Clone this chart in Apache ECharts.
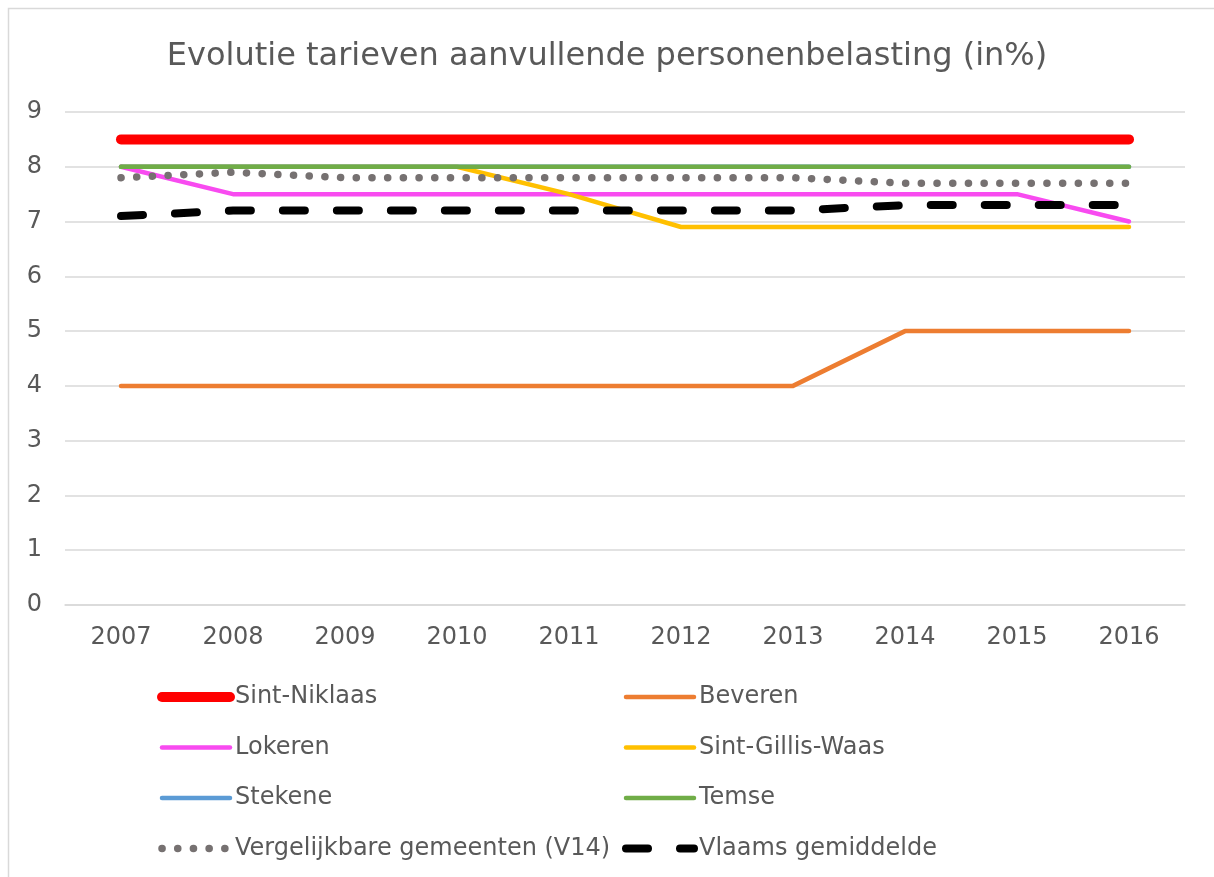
<!DOCTYPE html>
<html>
<head>
    <meta charset="utf-8">
    <title>Evolutie tarieven aanvullende personenbelasting</title>
    <script src="https://cdn.jsdelivr.net/npm/echarts@6/dist/echarts.min.js"></script>
    <style>
        html, body { margin: 0; padding: 0; background: #fff; }
        #main { width: 1214px; height: 877px; }
    </style>
</head>
<body>
    <div id="main"></div>
    <script type="text/javascript">
        // data
        var years = ['2007', '2008', '2009', '2010', '2011', '2012', '2013', '2014', '2015', '2016'];
        var sintNiklaas   = [8.5, 8.5, 8.5, 8.5, 8.5, 8.5, 8.5, 8.5, 8.5, 8.5];
        var beveren       = [4, 4, 4, 4, 4, 4, 4, 5, 5, 5];
        var lokeren       = [8, 7.5, 7.5, 7.5, 7.5, 7.5, 7.5, 7.5, 7.5, 7];
        var sintGillis    = [8, 8, 8, 8, 7.5, 6.9, 6.9, 6.9, 6.9, 6.9];
        var stekene       = [8, 8, 8, 8, 8, 8, 8, 8, 8, 8];
        var temse         = [8, 8, 8, 8, 8, 8, 8, 8, 8, 8];
        var vergelijkbaar = [7.8, 7.9, 7.8, 7.8, 7.8, 7.8, 7.8, 7.7, 7.7, 7.7];
        var vlaamsGem     = [7.1, 7.2, 7.2, 7.2, 7.2, 7.2, 7.2, 7.3, 7.3, 7.3];

        var font = 'DejaVu Sans';
        var txt = '#595959';

        function lineSerie(name, data, color, width, type) {
            return {
                name: name,
                type: 'line',
                data: data,
                symbol: 'none',
                animation: false,
                lineStyle: { color: color, width: width, type: type || 'solid', cap: 'round', join: 'round' },
                itemStyle: { color: color }
            };
        }

        // legend: line icon only, the circle symbol made invisible
        var legendBase = {
            orient: 'vertical',
            top: 685,
            itemWidth: 68,
            itemHeight: 24,
            itemGap: 26.5,
            icon: 'inherit',
            itemStyle: { opacity: 0 },
            lineStyle: { width: 'inherit', type: 'inherit', cap: 'round' },
            textStyle: { fontFamily: font, fontSize: 24, color: txt, lineHeight: 24 },
            padding: 0
        };

        var option = {
            backgroundColor: '#fff',
            title: {
                text: 'Evolutie tarieven aanvullende personenbelasting (in%)',
                left: 'center',
                top: 36,
                textStyle: { fontFamily: font, fontSize: 32, fontWeight: 'normal', color: txt }
            },
            legend: [
                Object.assign({}, legendBase, {
                    left: 157,
                    data: ['Sint-Niklaas', 'Lokeren', 'Stekene', 'Vergelijkbare gemeenten (V14)']
                }),
                Object.assign({}, legendBase, {
                    left: 622,
                    data: ['Beveren', 'Sint-Gillis-Waas', 'Temse', 'Vlaams gemiddelde']
                })
            ],
            grid: { left: 65, right: 29, top: 112, bottom: 272 },
            xAxis: {
                type: 'category',
                data: years,
                boundaryGap: true,
                axisLine: { lineStyle: { color: '#d9d9d9', width: 1.5 } },
                axisTick: { show: false },
                axisLabel: { fontFamily: font, fontSize: 24, color: txt, margin: 21 }
            },
            yAxis: {
                type: 'value',
                min: 0,
                max: 9,
                interval: 1,
                axisLine: { show: false },
                axisTick: { show: false },
                splitLine: { lineStyle: { color: '#d9d9d9', width: 1.5 } },
                axisLabel: { fontFamily: font, fontSize: 24, color: txt, margin: 23 }
            },
            graphic: [{
                type: 'rect',
                shape: { x: 8.5, y: 8.5, width: 1400, height: 1000 },
                style: { fill: null, stroke: '#d9d9d9', lineWidth: 1.5 },
                silent: true
            }],
            series: [
                lineSerie('Sint-Niklaas', sintNiklaas, '#FF0000', 10),
                lineSerie('Beveren', beveren, '#ED7D31', 4.5),
                lineSerie('Lokeren', lokeren, '#F84BF0', 4.5),
                lineSerie('Sint-Gillis-Waas', sintGillis, '#FFC000', 4.5),
                lineSerie('Stekene', stekene, '#5B9BD5', 4.5),
                lineSerie('Temse', temse, '#70AD47', 4.5),
                lineSerie('Vergelijkbare gemeenten (V14)', vergelijkbaar, '#767171', 7.5, [0.1, 15.6]),
                lineSerie('Vlaams gemiddelde', vlaamsGem, '#000000', 8, [22, 32])
            ]
        };

        var myChart = echarts.init(document.getElementById('main'));
        myChart.setOption(option);
    </script>
</body>
</html>
